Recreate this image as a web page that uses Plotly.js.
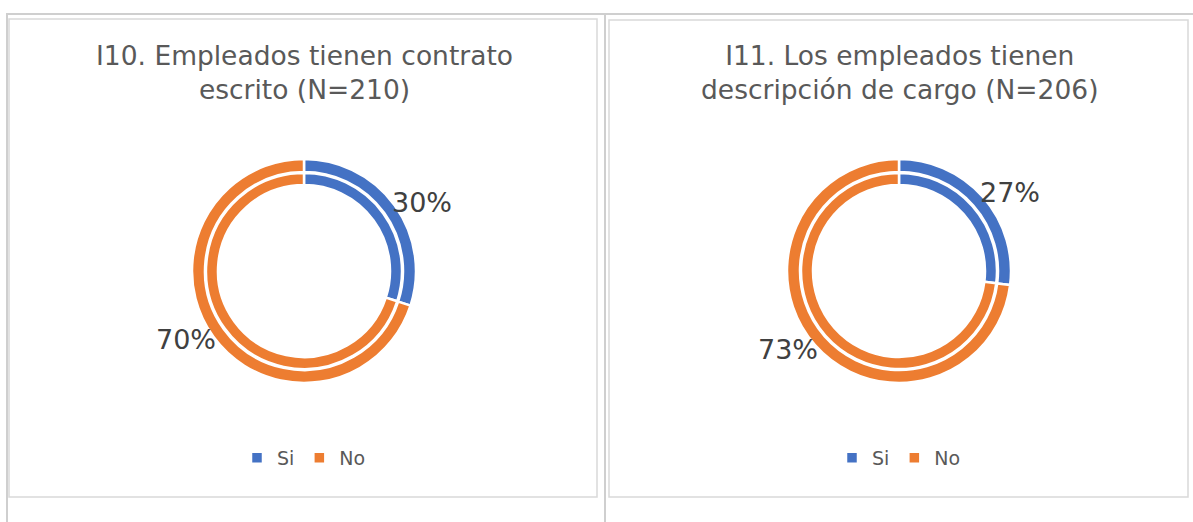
<!DOCTYPE html>
<html>
<head>
<meta charset="utf-8">
<script src="https://cdn.plot.ly/plotly-3.0.1.min.js"></script>
<style>
html,body{margin:0;padding:0;background:#fff;}
#wrap{position:relative;width:1193px;height:522px;overflow:hidden;background:#fff;}
.tl{position:absolute;background:#cfcfcf;}
.plot{position:absolute;top:0;height:522px;}
</style>
</head>
<body>
<div id="wrap">
  <div class="tl" style="left:7px;top:13px;width:1186px;height:2px;"></div>
  <div class="tl" style="left:6px;top:13px;width:2px;height:509px;"></div>
  <div class="tl" style="left:604px;top:13px;width:2px;height:509px;"></div>
  <div id="chart1" class="plot" style="left:0px;width:605px;"></div>
  <div id="chart2" class="plot" style="left:605px;width:588px;"></div>
</div>
<script>
// ---- data ----
const categories = ["Si", "No"];
const chart1Title = "I10. Empleados tienen contrato<br>escrito (N=210)";
const chart1Outer = [30, 70];
const chart1Inner = [30, 70];
const chart2Title = "I11. Los empleados tienen<br>descripción de cargo (N=206)";
const chart2Outer = [27, 73];
const chart2Inner = [27, 73];

const colors = ["#4472C4", "#ED7D31"];
const FONT = "DejaVu Sans, Verdana, sans-serif";
const H = 522;

function makeChart(divId, W, spec) {
  const px = x => x / W;
  const py = y => 1 - y / H;
  const ringDomain = (cx, cy, r) => ({ x: [px(cx - r), px(cx + r)], y: [py(cy + r), py(cy - r)] });
  const rOuter = 112, rInner = 98;
  const data = [
    {
      type: "pie", labels: categories, values: spec.inner, sort: false, direction: "clockwise", rotation: 0,
      hole: 86 / rInner, domain: ringDomain(spec.cx, spec.cy, rInner), textinfo: "none", hoverinfo: "none",
      marker: { colors: colors, line: { color: "#ffffff", width: 2.5 } }
    },
    {
      type: "pie", labels: categories, values: spec.outer, sort: false, direction: "clockwise", rotation: 0,
      hole: 99 / rOuter, domain: ringDomain(spec.cx, spec.cy, rOuter), textinfo: "none", hoverinfo: "none",
      marker: { colors: colors, line: { color: "#ffffff", width: 2.5 } }
    }
  ];
  const annotations = [{
    xref: "paper", yref: "paper", x: px(spec.cx), y: py(72), xanchor: "center", yanchor: "middle",
    text: spec.title, showarrow: false, font: { family: FONT, size: 26.5, color: "#595959" }, align: "center"
  }];
  const total = spec.outer.reduce((a, b) => a + b, 0);
  let cum = 0;
  spec.outer.forEach(v => {
    const mid = (cum + v / 2) / total * 2 * Math.PI + 6 * Math.PI / 180;
    cum += v;
    const R = 136;
    annotations.push({
      xref: "paper", yref: "paper",
      x: px(spec.cx + R * Math.sin(mid)), y: py(spec.cy - R * Math.cos(mid)),
      xanchor: "center", yanchor: "middle",
      text: Math.round(v / total * 100) + "%", showarrow: false,
      font: { family: FONT, size: 27, color: "#404040" }
    });
  });
  const b = spec.box;
  const shapes = [{
    type: "rect", xref: "paper", yref: "paper", x0: px(b[0]), x1: px(b[2]), y0: py(b[3]), y1: py(b[1]),
    line: { color: "#d9d9d9", width: 1.5 }
  }];
  const layout = {
    width: W, height: H,
    margin: { l: 0, r: 0, t: 0, b: 0 },
    paper_bgcolor: "rgba(0,0,0,0)",
    showlegend: true,
    legend: {
      orientation: "h", xanchor: "center", yanchor: "middle", x: px(spec.legendX), y: py(458),
      font: { family: FONT, size: 19, color: "#595959" }, itemwidth: 30, bgcolor: "rgba(0,0,0,0)",
      tracegroupgap: 0
    },
    annotations: annotations,
    shapes: shapes
  };
  Plotly.newPlot(divId, data, layout, { staticPlot: true, displayModeBar: false });
}

makeChart("chart1", 605, { title: chart1Title, outer: chart1Outer, inner: chart1Inner, cx: 304, cy: 271, legendX: 304, box: [9, 19, 597, 497] });
makeChart("chart2", 588, { title: chart2Title, outer: chart2Outer, inner: chart2Inner, cx: 899 - 605, cy: 271, legendX: 899 - 605, box: [4, 20, 583, 497] });
</script>
</body>
</html>
